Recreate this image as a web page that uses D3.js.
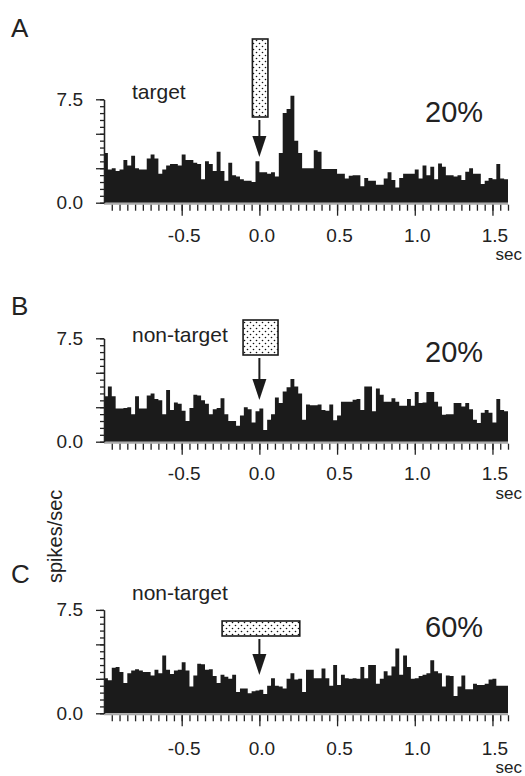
<!DOCTYPE html>
<html>
<head>
<meta charset="utf-8">
<script src="https://cdn.jsdelivr.net/npm/d3@7"></script>
<style>
  body { margin: 0; background: #fff; }
  text { font-family: "Liberation Sans", Arial, Helvetica, sans-serif; fill: #222; }
</style>
</head>
<body>
<div id="chart-area"></div>
<script>
// spike rate histograms, 25 ms bins from -1.0 to 1.6 s
const tStart = -1.0, tEnd = 1.6, binWidth = 0.025;

const ratesA = [3.6, 2.4, 2.5, 2.3, 2.4, 3.1, 2.7, 3.4, 2.5, 2.4,
    2.4, 3.2, 3.5, 3.2, 2.1, 2.4, 2.7, 2.8, 2.8, 2.7,
    3.5, 3.1, 3.1, 2.9, 2.8, 1.7, 3.0, 2.8, 2.3, 3.7,
    2.3, 1.6, 2.9, 2.0, 1.9, 1.7, 1.6, 1.6, 1.5, 3.0,
    2.2, 2.2, 2.1, 2.2, 1.9, 3.6, 6.5, 6.8, 7.75, 4.5,
    3.6, 2.5, 2.5, 2.5, 3.8, 3.7, 2.45, 2.45, 2.45, 2.45,
    2.1, 2.1, 1.75, 1.95, 2.0, 2.0, 1.2, 1.8, 1.6, 1.6,
    1.3, 1.3, 1.75, 2.2, 1.65, 1.1, 1.8, 2.1, 2.1, 2.1,
    2.4, 1.75, 2.7, 2.0, 2.6, 1.7, 2.85, 2.6, 2.0, 2.0,
    1.9, 2.0, 1.65, 2.25, 2.5, 2.1, 2.1, 1.35, 1.6, 1.8,
    1.7, 2.8, 1.75, 1.7];

const ratesB = [3.3, 4.0, 3.3, 2.4, 2.4, 2.45, 2.5, 2.0, 3.3, 2.4,
    2.4, 3.35, 3.5, 3.1, 3.0, 2.0, 3.75, 2.3, 2.85, 2.75,
    2.25, 1.5, 2.45, 3.4, 3.35, 3.0, 2.75, 2.0, 2.35, 2.45,
    3.15, 2.0, 1.5, 1.5, 1.15, 1.9, 2.5, 2.35, 1.4, 2.2,
    2.4, 0.85, 1.6, 2.0, 3.2, 2.8, 3.65, 3.95, 4.55, 4.0,
    3.5, 1.6, 2.7, 2.65, 2.65, 2.7, 2.3, 2.25, 2.7, 1.55,
    1.9, 2.9, 2.9, 2.9, 3.05, 3.1, 2.3, 4.0, 4.0, 2.2,
    3.85, 3.4, 2.9, 2.9, 3.15, 2.9, 2.6, 2.6, 3.1, 2.6,
    3.6, 2.8, 2.85, 3.6, 3.6, 2.9, 2.55, 1.95, 2.0, 2.0,
    2.8, 2.8, 2.55, 2.8, 2.35, 1.6, 1.35, 2.1, 2.3, 2.1,
    1.4, 3.1, 2.3, 2.2];

const ratesC = [2.55, 2.4, 3.3, 3.35, 3.0, 2.2, 2.9, 3.1, 3.2, 3.1,
    3.0, 3.0, 2.75, 3.15, 2.9, 4.2, 3.15, 2.85, 3.1, 3.15,
    3.7, 3.1, 1.95, 2.75, 3.6, 3.55, 3.15, 3.2, 2.7, 2.2,
    2.8, 2.65, 2.5, 2.8, 1.55, 1.8, 1.8, 1.45, 1.6, 1.65,
    1.7, 1.4, 2.0, 2.55, 2.0, 1.95, 1.8, 2.5, 2.9, 2.45,
    2.5, 1.55, 3.15, 3.15, 2.55, 2.55, 3.25, 2.55, 2.0, 3.5,
    2.05, 2.8, 2.55, 2.5, 2.55, 2.5, 3.35, 2.55, 3.5, 3.5,
    2.15, 2.5, 3.05, 2.75, 3.4, 4.7, 2.8, 4.2, 3.35, 2.5,
    2.55, 2.7, 2.8, 2.9, 3.85, 3.05, 2.9, 1.95, 2.75, 2.7,
    1.25, 1.95, 2.75, 1.75, 1.75, 2.15, 2.05, 2.05, 2.15, 2.45,
    2.5, 2.0, 2.0, 2.0];

const panelLetters = ["A", "B", "C"];
const conditionLabels = ["target", "non-target", "non-target"];
const percentLabels = ["20%", "20%", "60%"];
// stimulus window (sec) drawn as the dotted box
const stimWindows = [[-0.045, 0.055], [-0.105, 0.12], [-0.24, 0.26]];
const xTickValues = [-0.5, 0.0, 0.5, 1.0, 1.5];
const xTickLabels = ["-0.5", "0.0", "0.5", "1.0", "1.5"];
const yTickValues = [0, 7.5];
const yTickLabels = ["0.0", "7.5"];
const yMax = 7.5;

// pixel layout for each panel
var panels = [
    {rates: ratesA, zero: 202.7, letterY: 37, condY: 99, pctY: 122, box: [39, 117], tip: 157, labelDy: 39, secDy: 57},
    {rates: ratesB, zero: 441.7, letterY: 315, condY: 342, pctY: 362, box: [320, 355], tip: 400, labelDy: 38, secDy: 57},
    {rates: ratesC, zero: 713.3, letterY: 583, condY: 600, pctY: 637, box: [621, 636], tip: 675, labelDy: 42, secDy: 60}
];
var plotH = 103.4;

var svg = d3.select("#chart-area")
    .append("svg")
        .attr("width", 525)
        .attr("height", 776);

// dotted fill for the stimulus boxes
var pat = svg.append("defs").append("pattern")
    .attr("id", "dots")
    .attr("patternUnits", "userSpaceOnUse")
    .attr("width", 6)
    .attr("height", 6);
pat.append("rect").attr("width", 6).attr("height", 6).attr("fill", "#fff");
pat.append("circle").attr("cx", 1.5).attr("cy", 1.5).attr("r", 0.8).attr("fill", "#111");
pat.append("circle").attr("cx", 4.5).attr("cy", 4.5).attr("r", 0.8).attr("fill", "#111");

var x = d3.scaleLinear()
    .domain([tStart, tEnd])
    .range([104, 508]);

var minorX = d3.range(1, 53).map(function(i){ return tStart + i * 0.05; });
var minorY = d3.range(0, 16).map(function(i){ return i * 0.5; });
var midY = [0, 2.5, 5.0, 7.5];

panels.forEach(function(p, k){
    var g = svg.append("g");

    var y = d3.scaleLinear()
        .domain([0, yMax])
        .range([p.zero, p.zero - plotH]);

    // histogram as a step area
    var bins = p.rates.map(function(v, i){ return {t: tStart + i * binWidth, v: v}; });
    bins.push({t: tEnd, v: p.rates[p.rates.length - 1]});

    var area = d3.area()
        .curve(d3.curveStepAfter)
        .x(function(d){ return x(d.t); })
        .y0(p.zero)
        .y1(function(d){ return y(d.v); });

    g.append("path")
        .datum(bins)
        .attr("d", area)
        .attr("fill", "#1b1b1b");

    // grey baseline under the bars
    g.append("line")
        .attr("x1", x(tStart)).attr("x2", x(tEnd))
        .attr("y1", p.zero + 1).attr("y2", p.zero + 1)
        .attr("stroke", "#a9a9a9")
        .attr("stroke-width", 2);

    // x axis ticks
    var xMinor = g.append("g")
        .attr("transform", "translate(0," + (p.zero + 2) + ")")
        .call(d3.axisBottom(x).tickValues(minorX).tickSize(6).tickFormat(""));
    var xMajor = g.append("g")
        .attr("transform", "translate(0," + (p.zero + 2) + ")")
        .call(d3.axisBottom(x).tickValues(xTickValues).tickSize(11)
            .tickFormat(function(d, i){ return xTickLabels[i]; }));
    [xMinor, xMajor].forEach(function(a){
        a.select(".domain").remove();
        a.selectAll("line").attr("stroke", "#222").attr("stroke-width", 1.3);
    });
    xMajor.selectAll("text")
        .attr("y", p.labelDy - 2)
        .attr("dy", 0)
        .attr("x", 2)
        .attr("font-size", "19px")
        .attr("fill", "#222");

    g.append("text")
        .attr("x", 522)
        .attr("y", p.zero + p.secDy)
        .attr("text-anchor", "end")
        .attr("font-size", "17px")
        .text("sec");

    // y axis
    var yMinor = g.append("g")
        .attr("transform", "translate(104,0)")
        .call(d3.axisLeft(y).tickValues(minorY).tickSize(4).tickSizeOuter(0).tickFormat(""));
    var yMid = g.append("g")
        .attr("transform", "translate(104,0)")
        .call(d3.axisLeft(y).tickValues(midY).tickSize(8).tickSizeOuter(0).tickPadding(13)
            .tickFormat(function(d){
                var j = yTickValues.indexOf(d);
                return j < 0 ? "" : yTickLabels[j];
            }));
    [yMinor, yMid].forEach(function(a){
        a.select(".domain").attr("stroke", "#222").attr("stroke-width", 1.3);
        a.selectAll("line").attr("stroke", "#222").attr("stroke-width", 1.3);
    });
    yMid.selectAll("text")
        .attr("font-size", "19px")
        .attr("fill", "#222");

    // labels
    g.append("text")
        .attr("x", 11)
        .attr("y", p.letterY)
        .attr("font-size", "26px")
        .text(panelLetters[k]);

    g.append("text")
        .attr("x", 132)
        .attr("y", p.condY)
        .attr("font-size", "21px")
        .text(conditionLabels[k]);

    g.append("text")
        .attr("x", 425)
        .attr("y", p.pctY)
        .attr("font-size", "29px")
        .text(percentLabels[k]);

    // stimulus box and arrow
    var w = stimWindows[k];
    g.append("rect")
        .attr("x", x(w[0]))
        .attr("y", p.box[0])
        .attr("width", x(w[1]) - x(w[0]))
        .attr("height", p.box[1] - p.box[0])
        .attr("fill", "url(#dots)")
        .attr("stroke", "#1b1b1b")
        .attr("stroke-width", 1.6);

    var ax = x(0);
    g.append("line")
        .attr("x1", ax).attr("x2", ax)
        .attr("y1", p.box[1] + 3).attr("y2", p.tip - 18)
        .attr("stroke", "#1b1b1b")
        .attr("stroke-width", 2);
    g.append("path")
        .attr("d", "M" + (ax - 7) + "," + (p.tip - 21) + "L" + (ax + 7) + "," + (p.tip - 21) + "L" + ax + "," + p.tip + "Z")
        .attr("fill", "#1b1b1b");
});

// shared y label
svg.append("text")
    .attr("transform", "translate(62,583) rotate(-90)")
    .attr("font-size", "20px")
    .text("spikes/sec");
</script>
</body>
</html>
